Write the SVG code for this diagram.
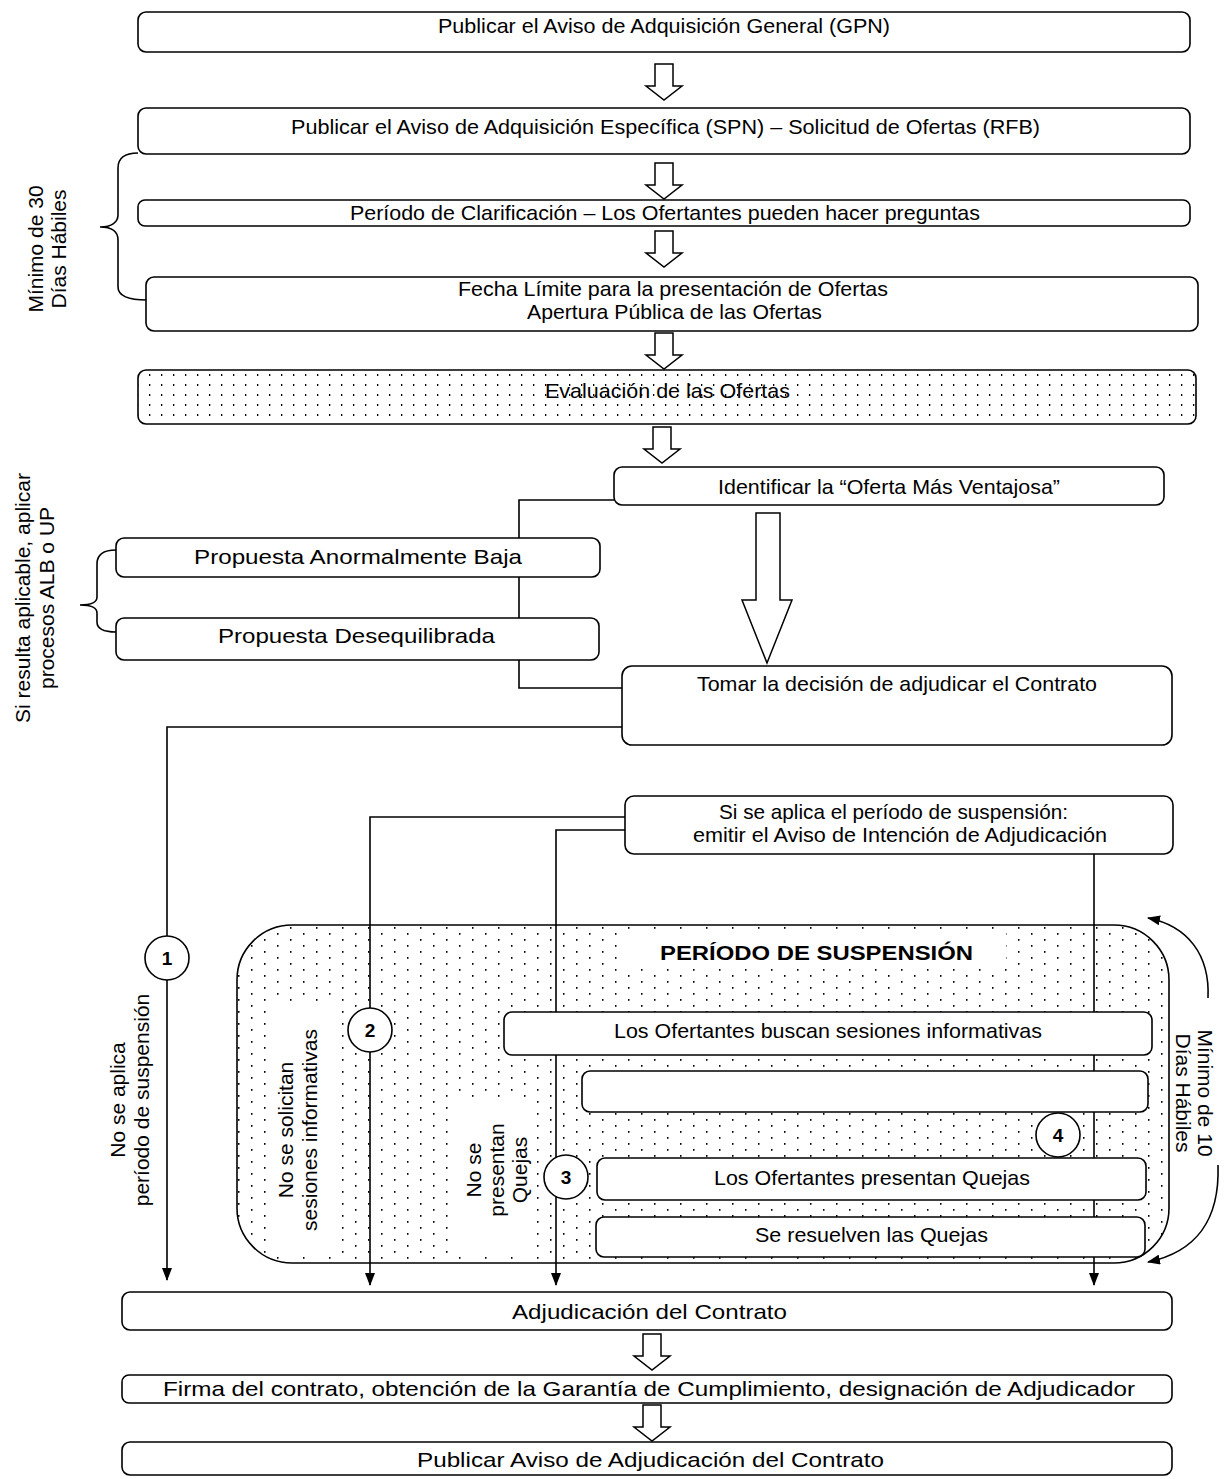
<svg xmlns="http://www.w3.org/2000/svg" width="1232" height="1479" viewBox="0 0 1232 1479">
<style>
.bx{fill:#fff;stroke:#000;stroke-width:1.6}
.t{font-family:"Liberation Sans",Arial,sans-serif;font-size:21px;text-anchor:middle;fill:#000}
.b{font-weight:bold}
.ln{fill:none;stroke:#000;stroke-width:1.6}
.ha{fill:#fff;stroke:#000;stroke-width:1.5;stroke-linejoin:miter}
.cn{fill:#fff;stroke:#000;stroke-width:1.6}
.num{font-family:"Liberation Sans",Arial,sans-serif;font-size:19px;font-weight:bold;text-anchor:middle;fill:#000}
</style>
<defs>
<pattern id="dots" width="12" height="10" patternUnits="userSpaceOnUse">
<rect width="12" height="10" fill="#fff"/>
<rect x="5" y="4" width="1.3" height="2" fill="#000"/>
</pattern>
<pattern id="dots2" width="26" height="12" patternUnits="userSpaceOnUse">
<rect width="26" height="12" fill="#fff"/>
<rect x="4" y="3" width="1.5" height="1.8" fill="#000"/>
<rect x="17" y="9" width="1.5" height="1.8" fill="#000"/>
</pattern>
<path id="sa" d="M-9,0 H9 V22 H18 L0,36 L-18,22 H-9 Z"/>
<marker id="ah" markerWidth="13" markerHeight="10" refX="12" refY="5" orient="auto" markerUnits="userSpaceOnUse">
<path d="M0,0 L13,5 L0,10 Z" fill="#000"/>
</marker>
</defs>

<!-- side labels and braces -->
<g id="label-30dias">
<path class="ln" d="M138,153 C124,153 118,158 118,168 L118,215 C118,222 112,227 100,227 C112,227 118,232 118,240 L118,287 C118,296 128,300 147,300"/>
<text class="t" transform="translate(43,249) rotate(-90)"><tspan x="0" y="0">Mínimo de 30</tspan><tspan x="0" y="23">Días Hábiles</tspan></text>
</g>
<g id="label-alb">
<path class="ln" d="M116,550 C104,550 97,554 97,564 L97,597 C97,602 92,605 80,605 C92,605 97,608 97,613 L97,622 C97,629 104,632 116,632"/>
<text class="t" transform="translate(30,598) rotate(-90)"><tspan x="0" y="0">Si resulta aplicable, aplicar</tspan><tspan x="0" y="24">procesos ALB o UP</tspan></text>
</g>

<!-- suspension period container -->
<g id="suspension">
<rect x="237" y="925" width="932" height="338" rx="55" fill="url(#dots2)" stroke="#000" stroke-width="1.6"/>
<rect x="624" y="931" width="382" height="37" fill="#fff"/>
<rect x="268" y="1002" width="72" height="252" fill="#fff"/>
<rect x="456" y="1100" width="80" height="155" fill="#fff"/>
<text class="t b" x="816.5" y="960" textLength="313" lengthAdjust="spacingAndGlyphs">PERÍODO DE SUSPENSIÓN</text>
<text class="t" transform="translate(293,1130) rotate(-90)"><tspan x="0" y="0">No se solicitan</tspan><tspan x="0" y="24">sesiones informativas</tspan></text>
<text class="t" transform="translate(481,1170) rotate(-90)"><tspan x="0" y="0">No se</tspan><tspan x="0" y="23">presentan</tspan><tspan x="0" y="46">Quejas</tspan></text>
</g>

<!-- connectors -->
<g id="connectors">
<path class="ln" d="M614,500 H519 V688 H622"/>
<path class="ln" d="M622,727 H167 V1280" marker-end="url(#ah)"/>
<path class="ln" d="M625,817 H370 V1285" marker-end="url(#ah)"/>
<path class="ln" d="M625,830 H556 V1285" marker-end="url(#ah)"/>
<path class="ln" d="M1094,854 V1285" marker-end="url(#ah)"/>
<path class="ln" d="M1208,998 C1210,955 1188,926 1148,918" marker-end="url(#ah)"/>
<path class="ln" d="M1218,1165 C1220,1222 1195,1252 1148,1262" marker-end="url(#ah)"/>
<use href="#sa" class="ha" x="664" y="64"/>
<use href="#sa" class="ha" x="664" y="163"/>
<use href="#sa" class="ha" x="664" y="231"/>
<use href="#sa" class="ha" x="664" y="333"/>
<use href="#sa" class="ha" x="662" y="427"/>
<use href="#sa" class="ha" x="652" y="1334"/>
<use href="#sa" class="ha" x="652" y="1405"/>
<path class="ha" d="M756,513 H780 V600 H792 L767,663 L742,600 H756 Z"/>
</g>

<text class="t" transform="translate(125,1100) rotate(-90)"><tspan x="0" y="0">No se aplica</tspan><tspan x="0" y="24">período de suspensión</tspan></text>
<g id="label-10dias">
<text class="t" transform="translate(1198,1093) rotate(90)"><tspan x="0" y="0">Mínimo de 10</tspan><tspan x="0" y="22">Días Hábiles</tspan></text>
</g>

<!-- nodes -->
<g id="n-gpn"><rect class="bx" x="138" y="12" width="1052" height="40" rx="8"/>
<text class="t" x="664" y="33" textLength="452" lengthAdjust="spacingAndGlyphs">Publicar el Aviso de Adquisición General (GPN)</text></g>
<g id="n-spn"><rect class="bx" x="138" y="108" width="1052" height="46" rx="8"/>
<text class="t" x="665.5" y="134" textLength="749" lengthAdjust="spacingAndGlyphs">Publicar el Aviso de Adquisición Específica (SPN) – Solicitud de Ofertas (RFB)</text></g>
<g id="n-clar"><rect class="bx" x="138" y="200" width="1052" height="26" rx="7"/>
<text class="t" x="665" y="220" textLength="630" lengthAdjust="spacingAndGlyphs">Período de Clarificación – Los Ofertantes pueden hacer preguntas</text></g>
<g id="n-fecha"><rect class="bx" x="146" y="277" width="1052" height="54" rx="8"/>
<text class="t" x="673" y="296" textLength="430" lengthAdjust="spacingAndGlyphs">Fecha Límite para la presentación de Ofertas</text>
<text class="t" x="674.5" y="319" textLength="295" lengthAdjust="spacingAndGlyphs">Apertura Pública de las Ofertas</text></g>
<g id="n-eval"><rect x="138" y="370" width="1058" height="54" rx="8" fill="url(#dots)" stroke="#000" stroke-width="1.6"/>
<text class="t" x="667.5" y="398" textLength="245" lengthAdjust="spacingAndGlyphs">Evaluación de las Ofertas</text></g>
<g id="n-ident"><rect class="bx" x="614" y="467" width="550" height="38" rx="8"/>
<text class="t" x="889" y="494" textLength="342" lengthAdjust="spacingAndGlyphs">Identificar la “Oferta Más Ventajosa”</text></g>
<g id="n-propa"><rect class="bx" x="116" y="538" width="484" height="39" rx="8"/>
<text class="t" x="358" y="564" textLength="328" lengthAdjust="spacingAndGlyphs">Propuesta Anormalmente Baja</text></g>
<g id="n-propd"><rect class="bx" x="116" y="618" width="483" height="42" rx="8"/>
<text class="t" x="356.5" y="643" textLength="277" lengthAdjust="spacingAndGlyphs">Propuesta Desequilibrada</text></g>
<g id="n-tomar"><rect class="bx" x="622" y="666" width="550" height="79" rx="10"/>
<text class="t" x="897" y="691" textLength="400" lengthAdjust="spacingAndGlyphs">Tomar la decisión de adjudicar el Contrato</text></g>
<g id="n-aviso"><rect class="bx" x="625" y="796" width="548" height="58" rx="9"/>
<text class="t" x="893.5" y="819" textLength="349" lengthAdjust="spacingAndGlyphs">Si se aplica el período de suspensión:</text>
<text class="t" x="900" y="842" textLength="414" lengthAdjust="spacingAndGlyphs">emitir el Aviso de Intención de Adjudicación</text></g>
<g id="n-buscan"><rect class="bx" x="504" y="1012" width="648" height="43" rx="8"/>
<text class="t" x="828" y="1038" textLength="428" lengthAdjust="spacingAndGlyphs">Los Ofertantes buscan sesiones informativas</text></g>
<g id="n-empty"><rect class="bx" x="582" y="1071" width="566" height="41" rx="8"/></g>
<g id="n-quejas"><rect class="bx" x="597" y="1158" width="549" height="42" rx="8"/>
<text class="t" x="872" y="1185" textLength="316" lengthAdjust="spacingAndGlyphs">Los Ofertantes presentan Quejas</text></g>
<g id="n-resuelven"><rect class="bx" x="596" y="1217" width="549" height="40" rx="8"/>
<text class="t" x="871.5" y="1242" textLength="233" lengthAdjust="spacingAndGlyphs">Se resuelven las Quejas</text></g>
<g id="c1"><circle class="cn" cx="167" cy="958" r="22"/><text class="num" x="167" y="965">1</text></g>
<g id="c2"><circle class="cn" cx="370" cy="1030" r="22"/><text class="num" x="370" y="1037">2</text></g>
<g id="c3"><circle class="cn" cx="566" cy="1177" r="22"/><text class="num" x="566" y="1184">3</text></g>
<g id="c4"><circle class="cn" cx="1058" cy="1135" r="22"/><text class="num" x="1058" y="1142">4</text></g>
<g id="n-adj"><rect class="bx" x="122" y="1292" width="1050" height="38" rx="8"/>
<text class="t" x="649.5" y="1319" textLength="275" lengthAdjust="spacingAndGlyphs">Adjudicación del Contrato</text></g>
<g id="n-firma"><rect class="bx" x="122" y="1375" width="1050" height="28" rx="7"/>
<text class="t" x="649" y="1396" textLength="972" lengthAdjust="spacingAndGlyphs">Firma del contrato, obtención de la Garantía de Cumplimiento, designación de Adjudicador</text></g>
<g id="n-pub"><rect class="bx" x="122" y="1442" width="1050" height="33" rx="8"/>
<text class="t" x="650.5" y="1467" textLength="467" lengthAdjust="spacingAndGlyphs">Publicar Aviso de Adjudicación del Contrato</text></g>
</svg>
